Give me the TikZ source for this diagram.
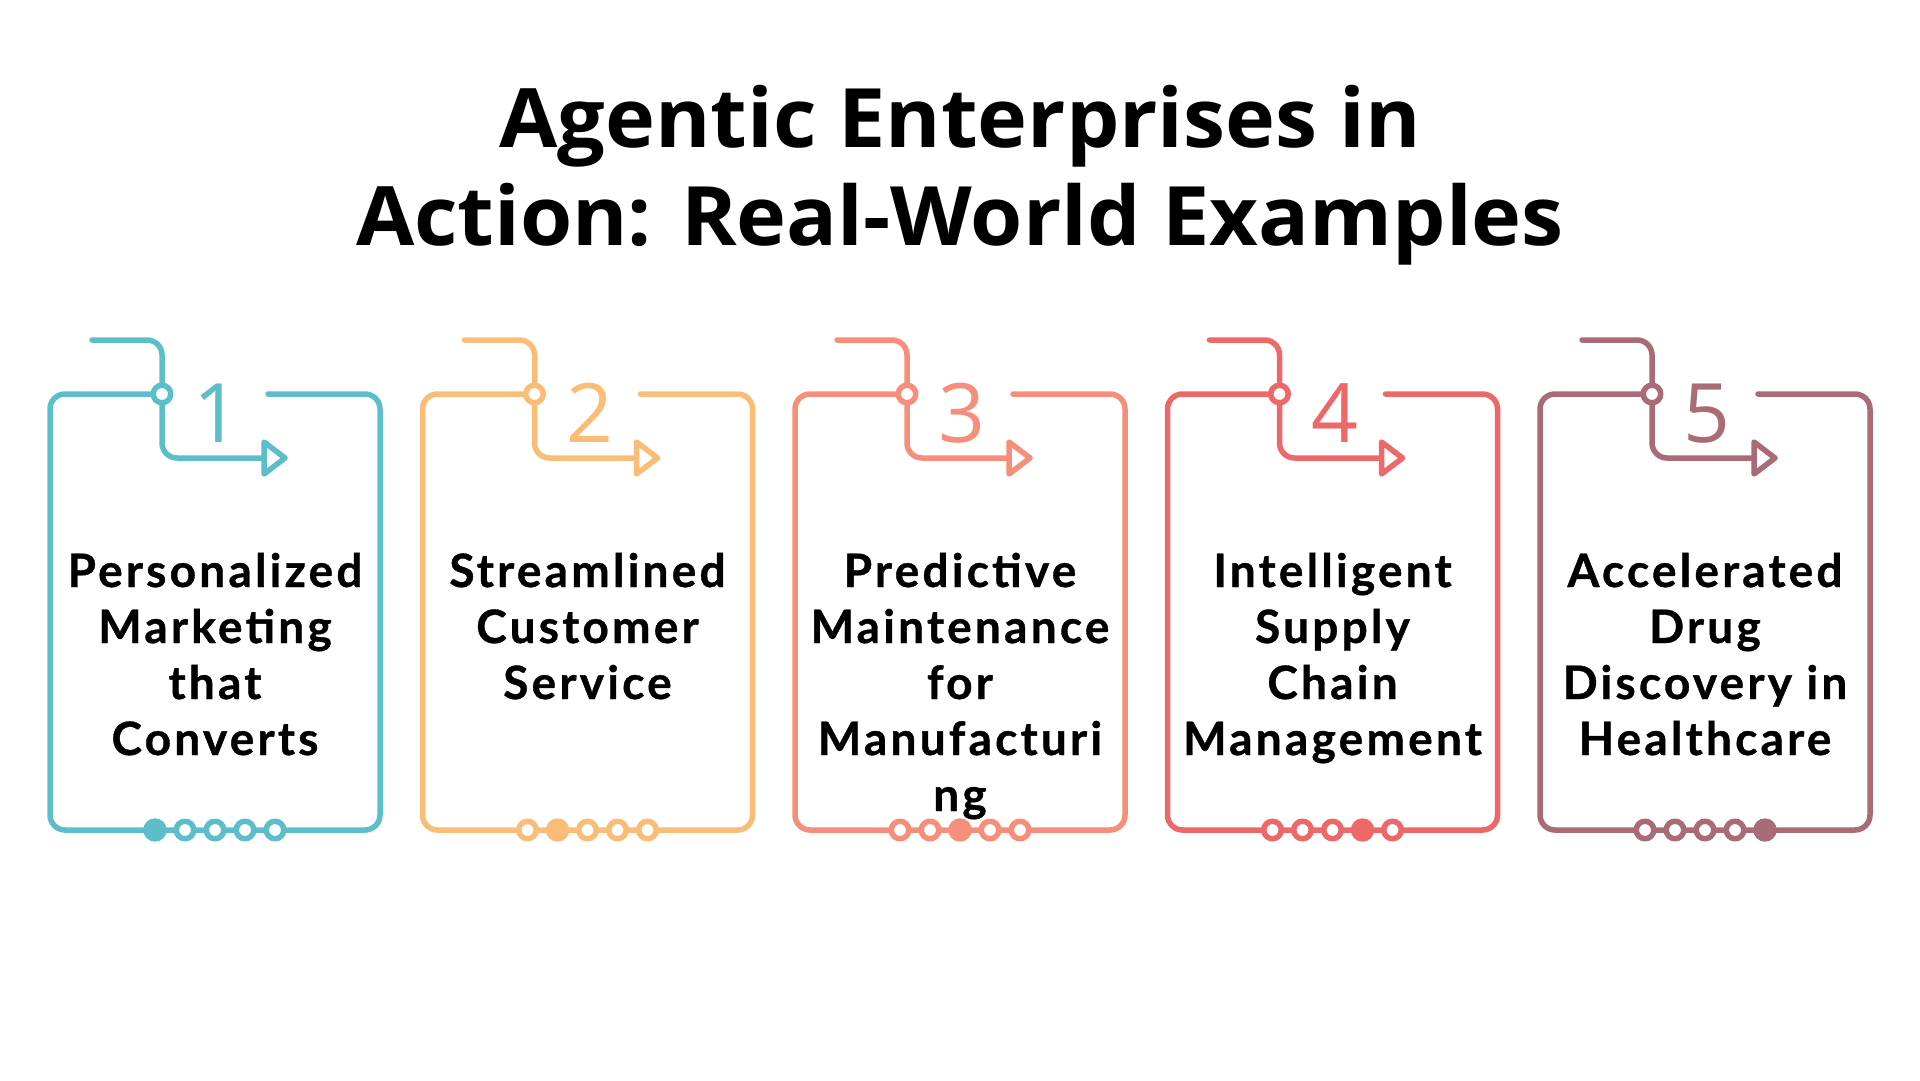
\documentclass[tikz,border=0pt]{standalone}
\usepackage{fontspec}
\setmainfont{Open Sans}
\newfontfamily\titlefont[FakeStretch=1.03]{Open Sans}
\newfontfamily\cardfont[LetterSpace=7,FakeBold=0.8]{Lato}
\newfontfamily\numfont{Open Sans}
\definecolor{c1}{HTML}{5BBEC9}
\definecolor{c2}{HTML}{FABD78}
\definecolor{c3}{HTML}{F58F7B}
\definecolor{c4}{HTML}{EC6869}
\definecolor{c5}{HTML}{A96B76}
\def\nl{\par}
\begin{document}
\begin{tikzpicture}[x=1pt,y=-1pt,
  cardline/.style={line width=5.5pt, line cap=round, line join=round},
  titletext/.style={anchor=base, inner sep=0pt, font=\titlefont\bfseries\fontsize{82}{98}\selectfont},
  numtext/.style={anchor=base, inner sep=0pt, font=\numfont\fontsize{82}{82}\selectfont},
  cardtext/.style={anchor=base, inner sep=0pt, font=\cardfont\bfseries\fontsize{46}{56}\selectfont}]
\useasboundingbox (0,0) rectangle (1920,1080);
\fill[white] (0,0) rectangle (1920,1080);
\node[titletext] (title1) at (960,147) {Agentic Enterprises in};
\node[titletext] (title2) at (960,245) {Action: Real-World Examples};
\foreach \i/\col/\txt in {
  1/c1/{Personalized\nl Marketing\nl that\nl Converts},
  2/c2/{Streamlined\nl Customer\nl Service},
  3/c3/{Predictive\nl Maintenance\nl for\nl Manufacturi\nl ng},
  4/c4/{Intelligent\nl Supply\nl Chain\nl Management},
  5/c5/{Accelerated\nl Drug\nl Discovery in\nl Healthcare}} {
  \pgfmathsetmacro\L{50+(\i-1)*372.5}
  % box outline
  \draw[cardline, \col, rounded corners=15pt] ({\L+112},394) -- (\L,394) -- (\L,830)
      -- ({\L+330},830) -- ({\L+330},394) -- ({\L+218},394);
  % hook connector
  \draw[cardline, \col, rounded corners=15pt] ({\L+42},340) -- ({\L+112},340)
      -- ({\L+112},458) -- ({\L+214},458);
  \draw[cardline, \col, fill=white] ({\L+214},442) -- ({\L+235},458) -- ({\L+214},474) -- cycle;
  \draw[cardline, \col, fill=white] ({\L+112},394) circle (8.75);
  % number
  \node[numtext, text=\col] (num\i) at ({\L+167},442) {\i};
  % dots
  \foreach \j in {1,...,5} {
    \pgfmathsetmacro\D{\L+75+\j*30}
    \ifnum\j=\i
      \fill[\col] (\D,830) circle (11.7);
    \else
      \draw[cardline, \col, fill=white] (\D,830) circle (8.75);
    \fi
  }
  % text
  \node[cardtext] (txt\i) at ({\L+165},587)
    {\vtop{\hsize=400pt\parindent=0pt\leftskip=0pt plus 1fil\rightskip=0pt plus 1fil\parfillskip=0pt\baselineskip=56pt \txt}};
}
\end{tikzpicture}
\end{document}
